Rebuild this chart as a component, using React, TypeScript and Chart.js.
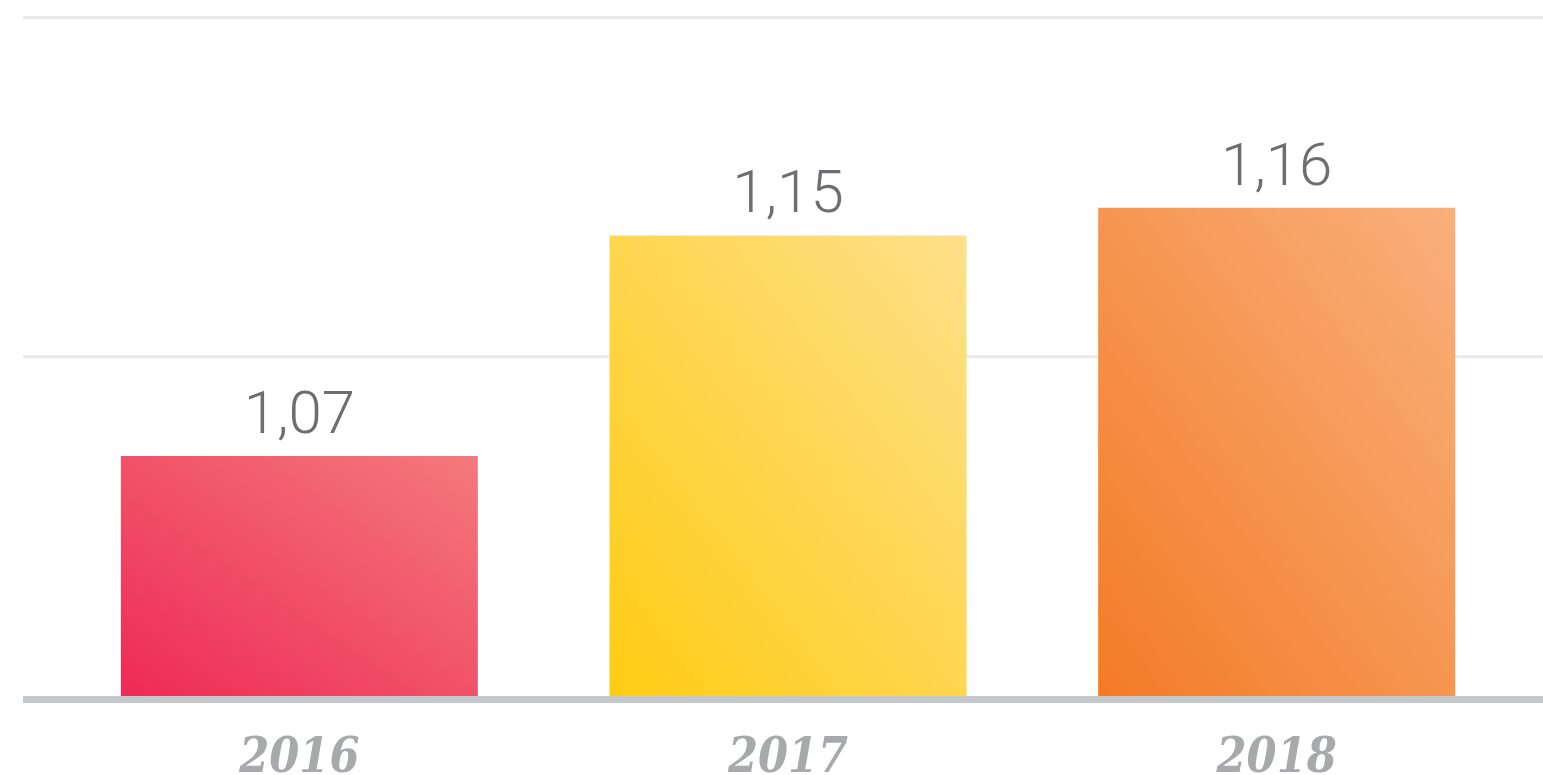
import React, { useEffect, useRef } from "react";
import { Chart, registerables } from "chart.js";

Chart.register(...registerables);

const categories = ["2016", "2017", "2018"];
const values = [1.07, 1.15, 1.16];
const yTicks = [0.983, 1.106, 1.229];
const colorsFrom = ["#ee2a56", "#fecc13", "#f37b26"];
const colorsTo = ["#f47a7c", "#fee08b", "#f9b07c"];

const W = 1543;
const H = 775;

function formatValue(v: number) {
  return v.toFixed(2).replace(".", ",");
}

export default function App() {
  const ref = useRef<HTMLCanvasElement | null>(null);

  useEffect(() => {
    const canvas = ref.current;
    if (!canvas) return;

    const gridPlugin = {
      id: "extGrid",
      beforeDatasetsDraw(chart: any) {
        const ctx = chart.ctx;
        const y = chart.scales.y;
        ctx.save();
        ctx.strokeStyle = "#ebebeb";
        ctx.lineWidth = 3;
        yTicks.slice(1).forEach((t) => {
          const py = y.getPixelForValue(t);
          ctx.beginPath();
          ctx.moveTo(23, py);
          ctx.lineTo(W, py);
          ctx.stroke();
        });
        ctx.restore();
      },
      afterDatasetsDraw(chart: any) {
        const ctx = chart.ctx;
        const y = chart.scales.y;
        const base = y.getPixelForValue(yTicks[0]);
        ctx.save();
        ctx.fillStyle = "#c4c8ca";
        ctx.fillRect(23, base, W - 23, 7);
        const meta = chart.getDatasetMeta(0);
        ctx.fillStyle = "#6d6e71";
        ctx.font = '300 60px Roboto';
        ctx.textAlign = "center";
        ctx.textBaseline = "alphabetic";
        meta.data.forEach((el: any, i: number) => {
          ctx.fillText(formatValue(values[i]), el.x, el.y - 23);
        });
        ctx.restore();
      },
    };

    const chart = new Chart(canvas, {
      type: "bar",
      data: {
        labels: categories,
        datasets: [
          {
            data: values,
            borderWidth: 0,
            barPercentage: 0.7306,
            categoryPercentage: 1,
            backgroundColor: (c: any) => {
              const ch = c.chart;
              const xs = ch.scales.x;
              const ys = ch.scales.y;
              const i = c.dataIndex;
              if (!xs || !ys || i === undefined || !ch.chartArea) return colorsFrom[i ?? 0];
              const cx = xs.getPixelForValue(i);
              const w = (xs.width / categories.length) * 0.7306;
              const top = ys.getPixelForValue(values[i]);
              const bottom = ys.getPixelForValue(yTicks[0]);
              const h = bottom - top;
              const cy = (top + bottom) / 2;
              const n = Math.sqrt(w * w + h * h);
              const dx = h / n;
              const dy = -w / n;
              const L = (w * h) / n;
              const g = ch.ctx.createLinearGradient(cx - dx * L, cy - dy * L, cx + dx * L, cy + dy * L);
              g.addColorStop(0, colorsFrom[i]);
              g.addColorStop(1, colorsTo[i]);
              return g;
            },
          },
        ],
      },
      options: {
        animation: false,
        responsive: false,
        maintainAspectRatio: false,
        devicePixelRatio: 1,
        layout: { padding: { left: 55, right: 22, top: 17.5, bottom: 0 } },
        plugins: { legend: { display: false }, tooltip: { enabled: false } },
        scales: {
          x: {
            grid: { display: false, drawTicks: false },
            border: { display: false },
            ticks: {
              color: "#a7a9ac",
              padding: 35,
              font: { family: '"DejaVu Serif Condensed", "DejaVu Serif"', size: 48, weight: "bold", style: "italic" },
            },
            afterFit: (scale: any) => {
              scale.height = H - 696;
            },
          },
          y: {
            display: false,
            min: yTicks[0],
            max: yTicks[yTicks.length - 1],
            ticks: { stepSize: yTicks[1] - yTicks[0] },
          },
        },
      },
      plugins: [gridPlugin],
    } as any);

    return () => chart.destroy();
  }, []);

  return (
    <div style={{ position: "absolute", left: 0, top: 0, width: W, height: H, background: "#ffffff" }}>
      <canvas ref={ref} width={W} height={H} style={{ display: "block", width: W, height: H }} />
    </div>
  );
}
